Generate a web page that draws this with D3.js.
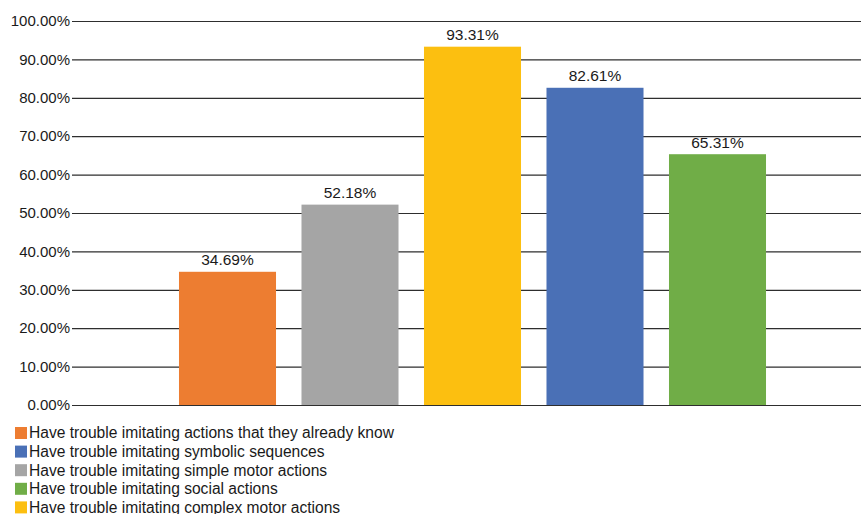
<!DOCTYPE html>
<html>
<head>
<meta charset="utf-8">
<script src="https://cdn.jsdelivr.net/npm/d3@7"></script>
<style>
  html, body { margin: 0; padding: 0; background: #fff; }
  svg { display: block; font-family: "Liberation Sans", Arial, Helvetica, sans-serif; }
</style>
</head>
<body>
<svg id="chart" width="861" height="514"></svg>
<script>
const categories = [
    'Have trouble imitating actions that they already know',
    'Have trouble imitating simple motor actions',
    'Have trouble imitating complex motor actions',
    'Have trouble imitating symbolic sequences',
    'Have trouble imitating social actions'
];
const values = [34.69, 52.18, 93.31, 82.61, 65.31];
const colors = ['#ed7d31', '#a5a5a5', '#fcbf10', '#4a70b6', '#70ad47'];
const legendOrder = [0, 3, 1, 4, 2];
const yTicks = [0, 10, 20, 30, 40, 50, 60, 70, 80, 90, 100];

const svg = d3.select('#chart');

const y = d3.scaleLinear().domain([0, 100]).range([405, 21]);
const x = d3.scaleBand()
    .domain(categories)
    .range([166.25, 778.75])
    .paddingInner(0.208)
    .paddingOuter(0.104);

// gridlines + tick labels
const grid = svg.append('g');
yTicks.forEach(t => {
    grid.append('line')
        .attr('x1', 72).attr('x2', 861)
        .attr('y1', y(t) + 0.5).attr('y2', y(t) + 0.5)
        .attr('stroke', '#2e2e2e')
        .attr('stroke-width', 1.2);
    grid.append('text')
        .attr('x', 70)
        .attr('y', y(t))
        .attr('dy', '0.35em')
        .attr('text-anchor', 'end')
        .attr('font-size', 15)
        .attr('fill', '#1a1a1a')
        .text(t.toFixed(2) + '%');
});

// bars
svg.append('g').selectAll('rect')
    .data(values)
    .join('rect')
    .attr('x', (d, i) => x(categories[i]))
    .attr('width', x.bandwidth())
    .attr('y', d => y(d))
    .attr('height', d => y(0) - y(d))
    .attr('fill', (d, i) => colors[i]);

// value labels
svg.append('g').selectAll('text')
    .data(values)
    .join('text')
    .attr('x', (d, i) => x(categories[i]) + x.bandwidth() / 2)
    .attr('y', d => y(d) - 6.5)
    .attr('text-anchor', 'middle')
    .attr('font-size', 15.5)
    .attr('fill', '#1a1a1a')
    .text(d => d.toFixed(2) + '%');

// legend
const legend = svg.append('g');
legendOrder.forEach((idx, row) => {
    const cy = 433 + row * 18.6;
    legend.append('rect')
        .attr('x', 15).attr('y', cy - 6)
        .attr('width', 12).attr('height', 12)
        .attr('fill', colors[idx]);
    legend.append('text')
        .attr('x', 29)
        .attr('y', cy)
        .attr('dy', '0.35em')
        .attr('font-size', 15.6)
        .attr('fill', '#1a1a1a')
        .text(categories[idx]);
});
</script>
</body>
</html>
